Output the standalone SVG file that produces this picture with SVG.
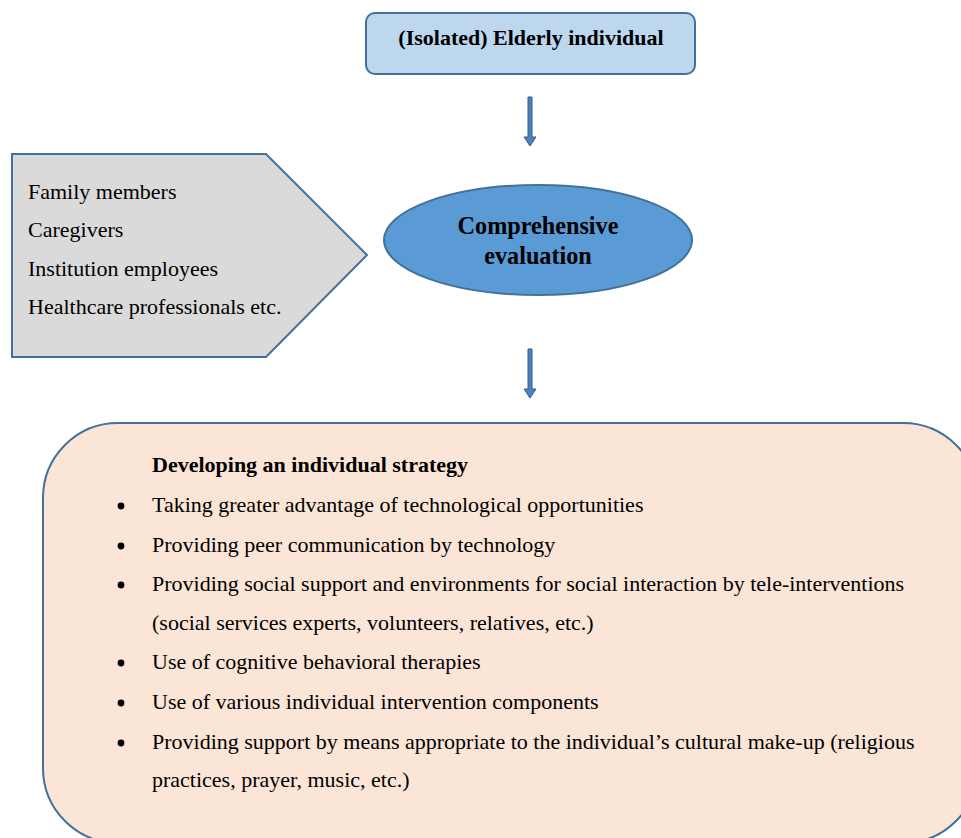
<svg xmlns="http://www.w3.org/2000/svg" width="961" height="838" viewBox="0 0 961 838">
<defs>
<style>
.t{font-family:"Liberation Serif","Times New Roman",serif;font-size:22px;fill:#000}
.b{font-weight:bold}
.big{font-size:24.2px}
.sh{stroke:#41719C;stroke-width:2}
.arr{fill:#4F81BD;stroke:#2F5E8E;stroke-width:1}
</style>
</defs>
<rect width="961" height="838" fill="#fff"/>
<g id="connectors">
<path class="arr" d="M528 97 H532 V137 H536 L530 146 L524 137 H528 Z"/>
<path class="arr" d="M528 349 H532 V389 H536 L530 398 L524 389 H528 Z"/>
</g>
<g id="elderly">
<rect class="sh" x="366" y="13" width="329" height="61" rx="9" fill="#BDD7EE"/>
<text class="t b" x="531" y="45" text-anchor="middle">(Isolated) Elderly individual</text>
</g>
<g id="stakeholders">
<path class="sh" d="M12 154 H266 L367 255 L266 357 H12 Z" fill="#DADADA"/>
<text class="t" x="28" y="199">Family members</text>
<text class="t" x="28" y="237">Caregivers</text>
<text class="t" x="28" y="276">Institution employees</text>
<text class="t" x="28" y="314">Healthcare professionals etc.</text>
</g>
<g id="evaluation">
<ellipse class="sh" cx="538" cy="240" rx="154" ry="55" fill="#5B9BD5"/>
<text class="t b big" x="538" y="234" text-anchor="middle">Comprehensive</text>
<text class="t b big" x="538" y="264" text-anchor="middle">evaluation</text>
</g>
<g id="strategy">
<rect class="sh" x="43" y="423" width="935" height="420" rx="75" fill="#FBE5D6"/>
<text class="t b" x="152" y="472">Developing an individual strategy</text>
<g fill="#000">
<circle cx="121" cy="506" r="3.4"/>
<circle cx="121" cy="546" r="3.4"/>
<circle cx="121" cy="585" r="3.4"/>
<circle cx="121" cy="663" r="3.4"/>
<circle cx="121" cy="703" r="3.4"/>
<circle cx="121" cy="743" r="3.4"/>
</g>
<text class="t" x="152" y="512">Taking greater advantage of technological opportunities</text>
<text class="t" x="152" y="552">Providing peer communication by technology</text>
<text class="t" x="152" y="591">Providing social support and environments for social interaction by tele-interventions</text>
<text class="t" x="152" y="630">(social services experts, volunteers, relatives, etc.)</text>
<text class="t" x="152" y="669">Use of cognitive behavioral therapies</text>
<text class="t" x="152" y="709">Use of various individual intervention components</text>
<text class="t" x="152" y="749">Providing support by means appropriate to the individual’s cultural make-up (religious</text>
<text class="t" x="152" y="787">practices, prayer, music, etc.)</text>
</g>
</svg>
